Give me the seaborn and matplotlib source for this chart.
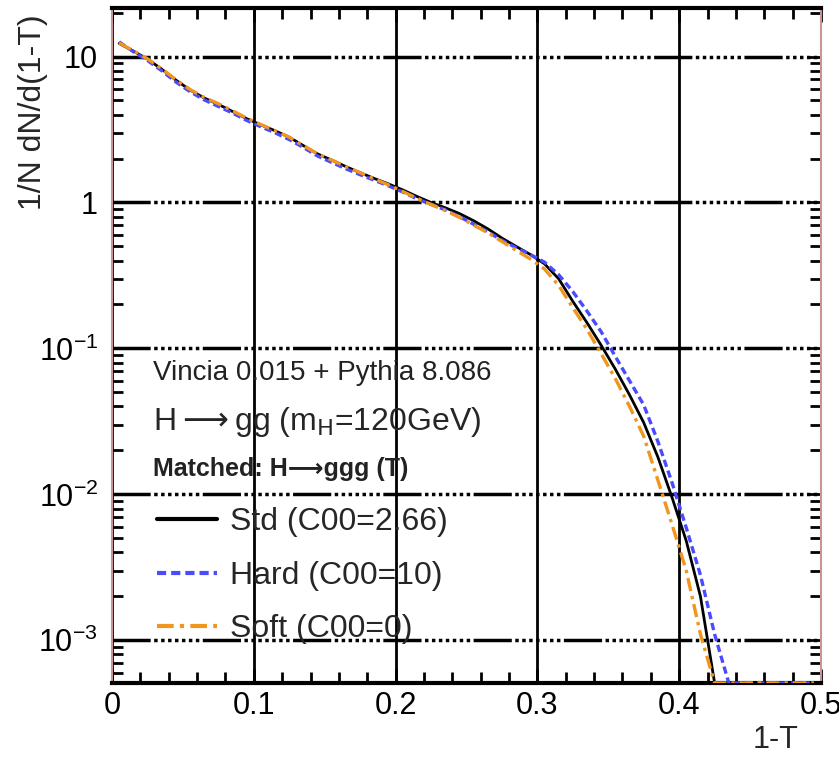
import numpy as np
import pandas as pd
import matplotlib as mpl
mpl.use('Agg')
import matplotlib.pyplot as plt
import seaborn as sns
from matplotlib.ticker import FixedLocator, FixedFormatter, LogLocator, MultipleLocator, NullFormatter

# bin centres of 1-T
one_minus_t = [0.005, 0.015, 0.025, 0.035, 0.045, 0.055, 0.065, 0.075, 0.085, 0.095,
               0.105, 0.115, 0.125, 0.135, 0.145, 0.155, 0.165, 0.175, 0.185, 0.195,
               0.205, 0.215, 0.225, 0.235, 0.245, 0.255, 0.265, 0.275, 0.285, 0.295,
               0.305, 0.315, 0.325, 0.335, 0.345, 0.355, 0.365, 0.375, 0.385, 0.395,
               0.405, 0.415, 0.425, 0.435, 0.445, 0.455, 0.465, 0.475, 0.485, 0.495]

std_vals = [12.3, 10.9, 9.6, 8.2, 6.9, 5.9, 5.2, 4.7, 4.2, 3.75,
            3.4, 3.1, 2.8, 2.45, 2.15, 1.95, 1.76, 1.6, 1.46, 1.34,
            1.22, 1.1, 1.0, 0.92, 0.84, 0.75, 0.66, 0.57, 0.50, 0.44,
            0.38, 0.30, 0.21, 0.15, 0.105, 0.072, 0.048, 0.031, 0.018, 0.0095,
            0.0048, 0.0020, 0.0005, 0, 0, 0, 0, 0, 0, 0]

hard_vals = [12.6, 10.8, 9.4, 8.0, 6.7, 5.75, 5.05, 4.55, 4.1, 3.65,
             3.3, 3.0, 2.7, 2.38, 2.08, 1.88, 1.7, 1.55, 1.42, 1.3,
             1.18, 1.06, 0.97, 0.89, 0.8, 0.71, 0.63, 0.55, 0.49, 0.44,
             0.39, 0.32, 0.245, 0.18, 0.13, 0.088, 0.06, 0.041, 0.023, 0.012,
             0.0059, 0.0028, 0.0011, 0.0005, 0, 0, 0, 0, 0, 0]

soft_vals = [12.4, 10.95, 9.65, 8.25, 6.95, 5.95, 5.25, 4.75, 4.25, 3.78,
             3.42, 3.1, 2.8, 2.45, 2.15, 1.95, 1.76, 1.6, 1.45, 1.32,
             1.19, 1.07, 0.97, 0.88, 0.79, 0.7, 0.62, 0.54, 0.47, 0.41,
             0.35, 0.27, 0.19, 0.135, 0.092, 0.062, 0.04, 0.025, 0.0125, 0.0062,
             0.003, 0.0011, 0.0004, 0, 0, 0, 0, 0, 0, 0]

labels = ['Std (C00=2.66)', 'Hard (C00=10)', 'Soft (C00=0)']
ytick_vals = [1e-3, 1e-2, 1e-1, 1, 10]
ytick_labels = ['10$^{-3}$', '10$^{-2}$', '10$^{-1}$', '1', '10']
ymin, ymax = 5.1e-4, 21.5

sns.set_style('ticks')
plt.rcParams['font.family'] = ['Liberation Sans', 'DejaVu Sans']
plt.rcParams['mathtext.fontset'] = 'custom'
plt.rcParams['mathtext.rm'] = 'Liberation Sans'
plt.rcParams['mathtext.it'] = 'Liberation Sans:italic'
plt.rcParams['mathtext.bf'] = 'Liberation Sans:bold'

fig = plt.figure(figsize=(8.39, 7.61), dpi=100)
ax = fig.add_axes([0.1335, 0.1025, 0.845, 0.887])

styles = [('black', '-', 2.0), ('#4a4aff', (0, (2.2, 1.2)), 2.4), ('#f0961e', (0, (4, 1.5, 1, 1.5)), 2.4)]
for vals, lab, (c, ls, lw) in zip([std_vals, hard_vals, soft_vals], labels, styles):
    df = pd.DataFrame({'x': one_minus_t, 'y': np.clip(vals, ymin, None)})
    sns.lineplot(data=df, x='x', y='y', ax=ax, color=c, linestyle=ls, lw=lw, label=lab, zorder=3)

ax.set_yscale('log')
ax.set_xlim(0, 0.5)
ax.set_ylim(ymin, ymax)

ax.xaxis.set_minor_locator(MultipleLocator(0.02))
ax.yaxis.set_major_locator(FixedLocator(ytick_vals))
ax.yaxis.set_major_formatter(FixedFormatter(ytick_labels))
ax.yaxis.set_minor_locator(LogLocator(base=10, subs=np.arange(2, 10)))
ax.yaxis.set_minor_formatter(NullFormatter())
ax.set_xticks([0, 0.1, 0.2, 0.3, 0.4, 0.5])
ax.set_xticklabels(['0', '0.1', '0.2', '0.3', '0.4', '0.5'])

ax.tick_params(which='both', direction='in', top=True, right=True, colors='black')
ax.tick_params(which='major', length=10, width=2, labelsize=22)
ax.tick_params(which='minor', length=8, width=2)
ax.tick_params(axis='x', pad=6)
ax.tick_params(axis='y', pad=10)

ax.xaxis.grid(True, which='major', color='black', lw=2, ls='-', zorder=1)
ax.yaxis.grid(True, which='major', color='black', lw=2.5,
              ls=(0, (11, 1, 1, 1, 1, 1, 1, 1, 1, 1, 1, 1, 1, 1, 1, 1)), zorder=1)
ax.set_axisbelow(True)

for s in ['top', 'bottom']:
    ax.spines[s].set_linewidth(3)
    ax.spines[s].set_color('black')
for s in ['left', 'right']:
    ax.spines[s].set_linewidth(1.5)
    ax.spines[s].set_color('#c89494')

ax.set_xlabel('1-T', fontsize=22, loc='right')
ax.xaxis.set_label_coords(0.969, -0.062)
ax.set_ylabel('1/N dN/d(1-T)', fontsize=23, loc='top')
ax.yaxis.set_label_coords(-0.09, 0.99)

ax.text(0.058, 0.449, 'Vincia 0.015 + Pythia 8.086', transform=ax.transAxes,
        fontsize=20, va='baseline', ha='left', color='#222222')
ax.text(0.058, 0.375, 'H$\\longrightarrow$gg (m$_{\\mathrm{H}}$=120GeV)', transform=ax.transAxes,
        fontsize=23, va='baseline', ha='left', math_fontfamily='dejavusans')
ax.text(0.058, 0.306, 'Matched: H\u27f6ggg (T)', transform=ax.transAxes,
        fontsize=18, fontweight='bold', va='baseline', ha='left', color='#222222')

leg = ax.legend(loc='upper left', bbox_to_anchor=(0.063, 0.26), frameon=False,
                fontsize=23, handlelength=1.9, handletextpad=0.4, labelspacing=0.73,
                borderpad=0, borderaxespad=0)
for h in leg.get_lines():
    h.set_linewidth(3)

fig.savefig('out.png', dpi=100, facecolor='white')
